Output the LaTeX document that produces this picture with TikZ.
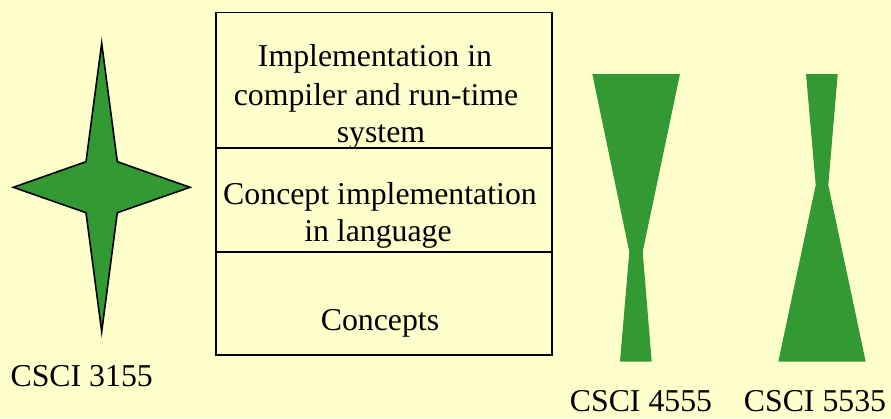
\documentclass[tikz,border=0pt]{standalone}
\usepackage{fontspec}
\setmainfont{Liberation Serif}
\definecolor{paper}{HTML}{FFFFCC}
\definecolor{leaf}{HTML}{339933}
\begin{document}
\begin{tikzpicture}[x=1pt,y=-1pt,
  lbl/.style={inner sep=0pt,anchor=base,font=\fontsize{31.8}{37}\selectfont},
  foot/.style={lbl,text depth=0pt},
  solid green/.style={fill=leaf,draw=none},
  outlined green/.style={fill=leaf,draw=black,line width=1.6pt,line join=miter}]
  % page
  \fill[paper] (0,0) rectangle (891,418);
  \useasboundingbox (0,0) rectangle (891,418);

  % four-pointed star
  \coordinate (sN) at (101.7,43.3);
  \coordinate (sS) at (101.7,331.7);
  \coordinate (sW) at (13.3,187.3);
  \coordinate (sE) at (190,187.3);
  \path[outlined green] (sN) -- (117.3,161.7) -- (sE) -- (117.3,212.7) -- (sS)
    -- (86,212.7) -- (sW) -- (86,161.7) -- cycle;
  \node[lbl] (c3155) at (81.7,386) {CSCI 3155};

  % layered box
  \coordinate (bTL) at (215.7,12.3);
  \coordinate (bBR) at (551.7,355);
  \draw[line width=1.6pt] (bTL) rectangle (bBR);
  \draw[line width=1.6pt] (215.7,147.7) -- (551.7,147.7);
  \draw[line width=1.6pt] (215.7,251.7) -- (551.7,251.7);
  \node[lbl] (t1a) at (375,66.7) {Implementation in};
  \node[lbl] (t1b) at (376,105) {compiler and run-time};
  \node[lbl] (t1c) at (381,142.5) {system};
  \node[lbl] (t2a) at (380,204) {Concept implementation};
  \node[lbl] (t2b) at (378,241) {in language};
  \node[lbl] (t3) at (380,330) {Concepts};

  % hourglass, wide top
  \path[solid green] (592.3,74) -- (680,74) -- (642.7,251.7) -- (651.7,361.7)
    -- (620,361.7) -- (629.3,251.7) -- cycle;
  \node[foot] (c4555) at (641,411.5) {CSCI 4555};

  % hourglass, wide bottom
  \path[solid green] (806,74) -- (837.7,74) -- (828.3,185) -- (865.7,361.7)
    -- (778.3,361.7) -- (815.7,185) -- cycle;
  \node[foot] (c5535) at (815,411.5) {CSCI 5535};
\end{tikzpicture}
\end{document}
